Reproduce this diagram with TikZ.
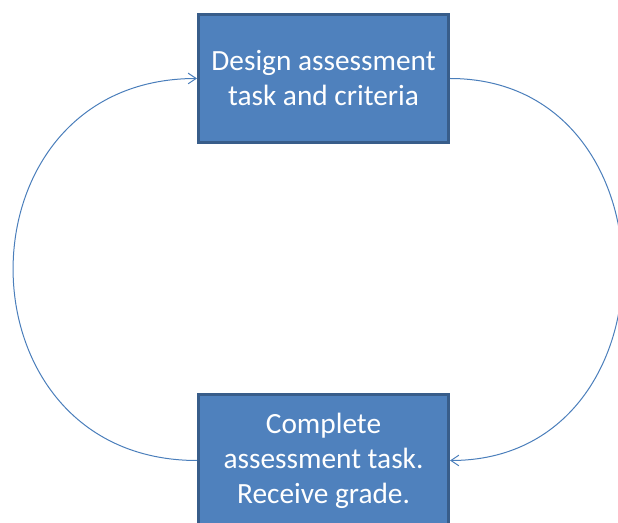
\documentclass[tikz,border=0pt]{standalone}
\usepackage{fontspec}
\setmainfont{Carlito}
\usepackage{tikz}
\usetikzlibrary{shapes.geometric,arrows,arrows.meta,positioning}
\definecolor{boxblue}{HTML}{4F81BD}
\definecolor{boxedge}{HTML}{385D8A}
\definecolor{linkblue}{HTML}{4A7EBB}

\begin{document}
\begin{tikzpicture}[x=0.75pt, y=-0.75pt, >={Straight Barb[length=6pt,width=8pt]}]
   \useasboundingbox (0,0) rectangle (618,523);
   \begin{scope}[every node/.style={rectangle,draw=boxedge,fill=boxblue,line width=2.25pt,
       minimum width=187.5pt,minimum height=96pt,align=center,text=white,
       font=\fontsize{22}{26.25}\selectfont}]
    \node (design) at (323.5,78.5) {Design assessment\\task and criteria};
    \node[minimum height=99pt] (complete) at (323.5,460.5) {Complete\\assessment task.\\Receive grade.};
   \end{scope}
   \begin{scope}[->,draw=linkblue,line width=0.75pt]
    \draw (design.east) .. controls +(230,0) and +(230,0) .. (complete.east);
    \draw (complete.west) .. controls +(-245,0) and +(-245,0) .. (design.west);
   \end{scope}
\end{tikzpicture}
\end{document}
